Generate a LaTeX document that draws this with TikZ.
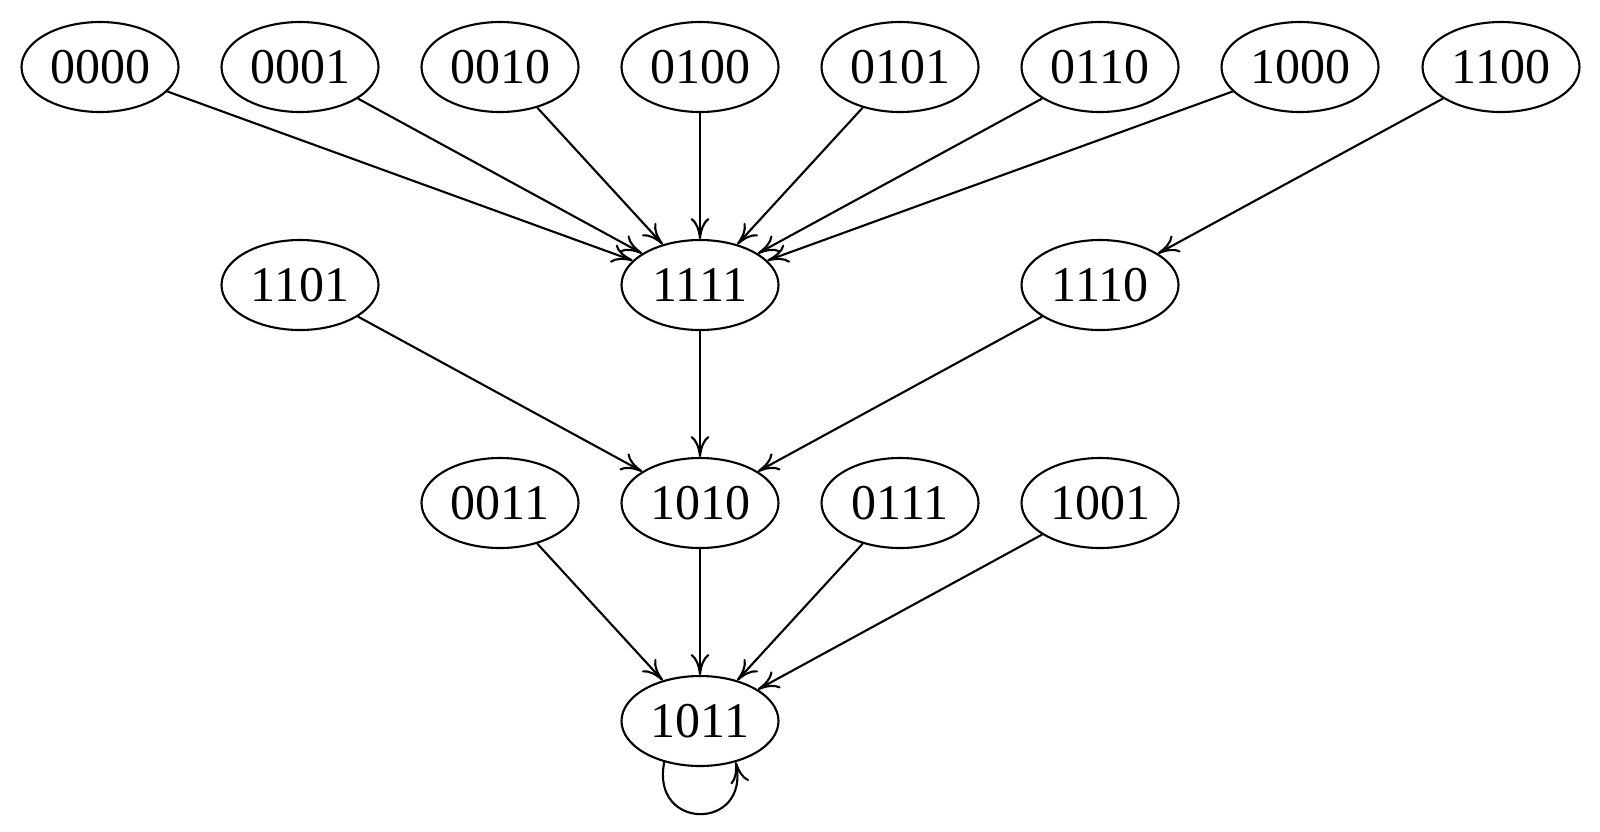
\documentclass[tikz,border=0pt]{standalone}
\usepackage{fontspec}
\setmainfont{Liberation Serif}
\usetikzlibrary{shapes.geometric,arrows.meta}
\begin{document}
\begin{tikzpicture}[x=1pt,y=-1pt,
  st/.style={ellipse,draw,line width=2.1pt,minimum width=157pt,minimum height=90pt,inner sep=0pt,font=\fontsize{50}{58}\selectfont},
  arr/.style={line width=2.1pt,-{Computer Modern Rightarrow[length=21pt,width=19pt,line width=2.1pt]}}]
\useasboundingbox (0,0) rectangle (1600,831);
% row 1
\node[st] (a0000) at (100,67) {0000};
\node[st] (a0001) at (300,67) {0001};
\node[st] (a0010) at (500,67) {0010};
\node[st] (a0100) at (700,67) {0100};
\node[st] (a0101) at (900,67) {0101};
\node[st] (a0110) at (1100,67) {0110};
\node[st] (a1000) at (1300,67) {1000};
\node[st] (a1100) at (1501,67) {1100};
% row 2
\node[st] (a1101) at (300,285) {1101};
\node[st] (a1111) at (700,285) {1111};
\node[st] (a1110) at (1100,285) {1110};
% row 3
\node[st] (a0011) at (500,503) {0011};
\node[st] (a1010) at (700,503) {1010};
\node[st] (a0111) at (900,503) {0111};
\node[st] (a1001) at (1100,503) {1001};
% row 4
\node[st] (a1011) at (700,721) {1011};
% edges
\foreach \s in {0000,0001,0010,0100,0101,0110,1000}
  \draw[arr] (a\s) -- (a1111);
\draw[arr] (a1100) -- (a1110);
\foreach \s in {1101,1111,1110}
  \draw[arr] (a\s) -- (a1010);
\foreach \s in {0011,1010,0111,1001}
  \draw[arr] (a\s) -- (a1011);
\draw[arr] (a1011.-131) .. controls +(-14,69) and +(14,69) .. (a1011.-49);
\end{tikzpicture}
\end{document}
